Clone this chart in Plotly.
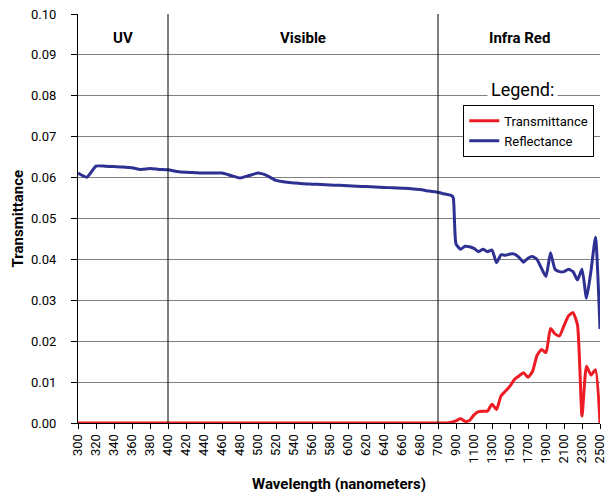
import numpy as np
import plotly.graph_objects as go

# ---- data ----
wavelength = list(range(300, 701, 10)) + [750, 800, 850, 870] + list(range(900, 2501, 50))

reflectance = [
    0.0611, 0.0601, 0.0628, 0.0628, 0.0627, 0.0626, 0.0624, 0.0620, 0.0622, 0.0620,
    0.0619, 0.0615, 0.0613, 0.0612, 0.0611, 0.0611, 0.0611, 0.0605, 0.0599, 0.0605,
    0.0611, 0.0605, 0.0593, 0.0589, 0.0587, 0.0585, 0.0584, 0.0583, 0.0582, 0.0581,
    0.0580, 0.0579, 0.0578, 0.0577, 0.0576, 0.0575, 0.0574, 0.0573, 0.0571, 0.0567,
    0.0564,
    0.0561, 0.0559, 0.0556, 0.0550,
    0.0438, 0.0425, 0.0432, 0.0431, 0.0427, 0.0419, 0.0425, 0.0419, 0.0423, 0.0392,
    0.0411, 0.0410, 0.0413, 0.0413, 0.0405, 0.0393, 0.0403, 0.0407, 0.0400, 0.0378,
    0.0358, 0.0416, 0.0376, 0.0370, 0.0370, 0.0376, 0.0370, 0.0350, 0.0376, 0.0305,
    0.0372, 0.0454, 0.0230,
]

transmittance = [0.0] * 41 + [0.0, 0.0, 0.0002, 0.0003] + [
    0.0005, 0.0011, 0.0004, 0.0006, 0.0020, 0.0028, 0.0029, 0.0029, 0.0046, 0.0033,
    0.0066, 0.0078, 0.0090, 0.0107, 0.0115, 0.0123, 0.0112, 0.0126, 0.0165, 0.0180,
    0.0172, 0.0231, 0.0218, 0.0213, 0.0238, 0.0262, 0.0270, 0.0240, 0.0017, 0.0139,
    0.0117, 0.0130, 0.0,
]

tick_wavelengths = list(range(300, 701, 20)) + list(range(900, 2501, 200))
tick_labels = [str(t) for t in tick_wavelengths]

region_names = ["UV", "Visible", "Infra Red"]
region_bounds = [300, 400, 700, 2500]

# the axis is evenly spaced per tick label: 20 nm steps up to 700, 200 nm steps above
scale_w = list(range(300, 701, 20)) + [700 + 200 * k for k in range(1, 10)]
scale_p = list(range(len(scale_w)))


def pos(w):
    return np.interp(w, scale_w, scale_p)


xpos = pos(np.array(wavelength))
tickpos = pos(np.array(tick_wavelengths))

FONT = "Roboto, Liberation Sans, sans-serif"
RED = "#ED1C24"
BLUE = "#2E3192"

fig = go.Figure()
fig.add_trace(go.Scatter(x=xpos, y=transmittance, mode="lines", name="Transmittance",
                         line=dict(color=RED, width=3, shape="spline", smoothing=0.5)))
fig.add_trace(go.Scatter(x=xpos, y=reflectance, mode="lines", name="Reflectance",
                         line=dict(color=BLUE, width=3, shape="spline", smoothing=0.5)))

# region divider lines
for b in region_bounds[1:3]:
    fig.add_shape(type="line", xref="x", yref="y", x0=pos(b), x1=pos(b), y0=0, y1=0.1,
                  line=dict(color="black", width=1), layer="above")

for i, name in enumerate(region_names):
    c = (pos(region_bounds[i]) + pos(region_bounds[i + 1])) / 2
    fig.add_annotation(x=c, y=0.0941, xref="x", yref="y", text="<b>%s</b>" % name,
                       showarrow=False, xanchor="center", yanchor="middle",
                       font=dict(family=FONT, size=15, color="black"))

fig.add_annotation(x=0.852, y=0.815, xref="paper", yref="paper", text="Legend:",
                   showarrow=False, bgcolor="white", borderpad=3,
                   xanchor="center", yanchor="middle",
                   font=dict(family=FONT, size=18, color="black"))

# y axis title
fig.add_annotation(x=-0.115, y=0.5, xref="paper", yref="paper", text="<b>Transmittance</b>",
                   showarrow=False, textangle=-90, xanchor="center", yanchor="middle",
                   font=dict(family=FONT, size=15, color="black"))

fig.update_layout(
    width=607, height=494,
    margin=dict(l=78, r=7, t=14, b=71, autoexpand=False),
    paper_bgcolor="white", plot_bgcolor="white",
    font=dict(family=FONT, size=13, color="black"),
    showlegend=True,
    legend=dict(x=0.738, y=0.778, xanchor="left", yanchor="top",
                bgcolor="white", bordercolor="black", borderwidth=1,
                font=dict(family=FONT, size=13, color="black"),
                itemwidth=30, tracegroupgap=0),
)

fig.update_xaxes(range=[0, 29], tickmode="array", tickvals=tickpos, ticktext=tick_labels,
                 tickangle=-90, ticks="outside", ticklen=5, tickcolor="black",
                 showline=True, linecolor="black", linewidth=1, showgrid=False,
                 zeroline=False, automargin=False, ticklabeloverflow="allow",
                 tickfont=dict(family=FONT, size=13),
                 title=dict(text="<b>Wavelength (nanometers)</b>", font=dict(family=FONT, size=15),
                            standoff=16))
fig.update_yaxes(range=[0, 0.1], dtick=0.01, tickformat=".2f", ticks="outside", ticklen=6,
                 tickcolor="black", showline=True, linecolor="black", linewidth=1,
                 showgrid=True, gridcolor="#808080", gridwidth=1, zeroline=False,
                 ticklabelstandoff=12, automargin=False,
                 tickfont=dict(family=FONT, size=13))

fig.write_html("out.html", config={"displayModeBar": False},
               post_script="document.body.style.margin='0';")
